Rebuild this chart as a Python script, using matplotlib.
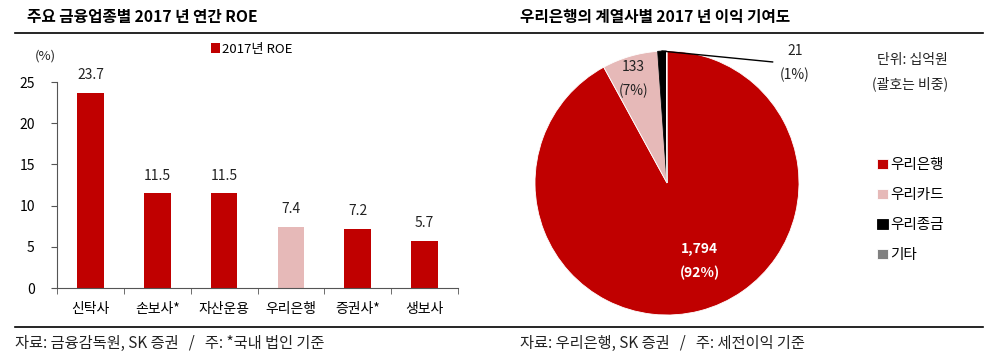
import matplotlib.pyplot as plt
from matplotlib.lines import Line2D
import numpy as np

plt.rcParams['font.family'] = ['Noto Sans CJK KR', 'DejaVu Sans']

# left chart: ROE by sector
sectors = ["신탁사", "손보사*", "자산운용", "우리은행", "증권사*", "생보사"]
roe_2017 = [23.7, 11.5, 11.5, 7.4, 7.2, 5.7]

# right chart: profit contribution (KRW bn)
affiliates = ["우리은행", "우리카드", "우리종금", "기타"]
profit_2017 = [1794, 133, 21, 1]
share_pct = [92, 7, 1, 0]

RED = '#C00000'
PINK = '#E6B9B8'
W, H = 1000, 357

fig = plt.figure(figsize=(10, 3.57), dpi=100)

def fx(px):
    return px / W

def fy(py):
    return 1 - py / H

# titles and rules
fig.text(fx(27), fy(17), "주요 금융업종별 2017 년 연간 ROE", fontsize=11.3, fontweight='bold',
         va='center', ha='left')
fig.text(fx(520), fy(17), "우리은행의 계열사별 2017 년 이익 기여도", fontsize=11.3, fontweight='bold',
         va='center', ha='left')
fig.add_artist(Line2D([fx(15), fx(983)], [fy(33), fy(33)], color='black', lw=1.2))
fig.add_artist(Line2D([fx(15), fx(983)], [fy(327), fy(327)], color='black', lw=1.2))
fig.text(fx(15), fy(343), "자료: 금융감독원, SK 증권   /   주: *국내 법인 기준", fontsize=11,
         va='center', ha='left', color='#222222')
fig.text(fx(520), fy(343), "자료: 우리은행, SK 증권   /   주: 세전이익 기준", fontsize=11,
         va='center', ha='left', color='#222222')

# ---- bar chart ----
ax = fig.add_axes([fx(57), fy(288), fx(458 - 57), (288 - 82) / H])
x = np.arange(len(sectors))
colors = [PINK if s == "우리은행" else RED for s in sectors]
bars = ax.bar(x, roe_2017, width=0.4, color=colors)
for xi, v in zip(x, roe_2017):
    ax.text(xi, v + 1.3, f"{v:.1f}", ha='center', va='bottom', fontsize=10, color='#222222',
            clip_on=False)
ax.set_xlim(-0.5, len(sectors) - 0.5)
ax.set_ylim(0, 25)
ax.set_yticks([0, 5, 10, 15, 20, 25])
ax.set_xticks(x)
ax.set_xticklabels(sectors, fontsize=10)
ax.set_xticks(np.arange(len(sectors) + 1) - 0.5, minor=True)
ax.tick_params(axis='x', which='major', length=0, pad=10)
ax.tick_params(axis='x', which='minor', length=4, direction='out', color='#555555')
ax.tick_params(axis='y', length=4, direction='out', color='#555555', labelsize=10, pad=12)
for s in ['top', 'right']:
    ax.spines[s].set_visible(False)
for s in ['left', 'bottom']:
    ax.spines[s].set_color('#555555')
fig.text(fx(45), fy(56), "(%)", fontsize=9.5, ha='center', va='center', color='#222222')
fig.legend(handles=[bars[0]], labels=["2017년 ROE"], loc='center left',
           bbox_to_anchor=(fx(204), fy(49)), frameon=False, fontsize=9.5,
           handlelength=0.7, handleheight=0.7, handletextpad=0.2, borderpad=0)

# ---- pie chart ----
r_px = 132
pax = fig.add_axes([fx(667 - r_px), fy(183 + r_px), 2 * r_px / W, 2 * r_px / H])
pie_colors = [RED, PINK, 'black', '#808080']
wedges, _ = pax.pie(profit_2017, colors=pie_colors, startangle=90, counterclock=False,
                    radius=1, wedgeprops=dict(linewidth=0.6, edgecolor='white'))
wedges[2].set_edgecolor('black')
pax.set_xlim(-1, 1)
pax.set_ylim(-1, 1)
pax.set_aspect('auto')
pax.axis('off')

def mid(w):
    return np.deg2rad((w.theta1 + w.theta2) / 2)

a0 = mid(wedges[0])
pax.text(0.64 * np.cos(a0) + 0.09, 0.64 * np.sin(a0) + 0.12, f"{profit_2017[0]:,}", color='white',
         fontweight='bold', fontsize=10, ha='center', va='center')
pax.text(0.64 * np.cos(a0) + 0.09, 0.64 * np.sin(a0) - 0.06, f"({share_pct[0]}%)", color='white',
         fontweight='bold', fontsize=10, ha='center', va='center')
a1 = mid(wedges[1])
pax.text(0.86 * np.cos(a1) - 0.01, 0.86 * np.sin(a1) + 0.05, f"{profit_2017[1]}", fontsize=10,
         ha='center', va='center', color='#222222')
pax.text(0.86 * np.cos(a1) - 0.01, 0.86 * np.sin(a1) - 0.13, f"({share_pct[1]}%)", fontsize=10,
         ha='center', va='center', color='#222222')
a2 = mid(wedges[2])
pax.plot([np.cos(a2), 0.80], [np.sin(a2), 0.917], color='black', lw=1, clip_on=False)
pax.text(0.97, 1.0, f"{profit_2017[2]}", fontsize=10, ha='center', va='center',
         color='#222222', clip_on=False)
pax.text(0.97, 0.82, f"({share_pct[2]}%)", fontsize=10, ha='center', va='center',
         color='#222222', clip_on=False)

fig.text(fx(912), fy(60), "단위: 십억원", fontsize=10, ha='center', va='center', color='#222222')
fig.text(fx(910), fy(84), "(괄호는 비중)", fontsize=10, ha='center', va='center', color='#222222')

fig.legend(handles=wedges, labels=affiliates, loc='upper left',
           bbox_to_anchor=(fx(870), fy(151)), frameon=False, fontsize=10.5,
           handlelength=0.7, handleheight=0.7, handletextpad=0.2, borderpad=0,
           labelspacing=1.1)

fig.savefig('out.png', dpi=100)
